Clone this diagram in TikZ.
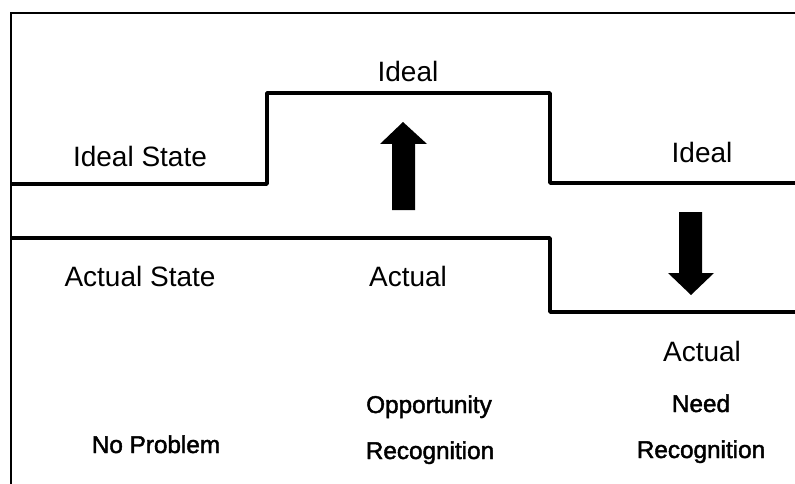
\documentclass[tikz,border=0pt]{standalone}
\usepackage{fontspec}
\setmainfont{Liberation Sans}
\newfontfamily\heavyfont[FakeBold=1.8]{Liberation Sans}
\begin{document}
\begin{tikzpicture}[x=1pt,y=-1pt,
  frameline/.style={line width=1.8pt,black},
  stepline/.style={line width=3.6pt,black,line join=round},
  bigarrow/.style={fill=black,draw=none},
  lbl/.style={font=\fontsize{28}{30}\selectfont,anchor=base,inner sep=0pt},
  heavylbl/.style={font=\heavyfont\fontsize{24.3}{26}\selectfont,anchor=base,inner sep=0pt}]
\useasboundingbox (0,0) rectangle (795,484);
% frame
\coordinate (fTR) at (795,13);
\coordinate (fTL) at (11,13);
\coordinate (fBL) at (11,484);
\draw[frameline] (fTR) -- (fTL) -- (fBL);
% ideal line
\coordinate (i0) at (11,184);
\coordinate (i1) at (267,184);
\coordinate (i2) at (267,93);
\coordinate (i3) at (550,93);
\coordinate (i4) at (550,183);
\coordinate (i5) at (795,183);
\draw[stepline] (i0) -- (i1) -- (i2) -- (i3) -- (i4) -- (i5);
% actual line
\coordinate (a0) at (11,238);
\coordinate (a1) at (550,238);
\coordinate (a2) at (550,312);
\coordinate (a3) at (795,312);
\draw[stepline] (a0) -- (a1) -- (a2) -- (a3);
% up arrow
\fill[bigarrow] (392,210) -- (415,210) -- (415,144) -- (427,144) -- (403,122) -- (380,144) -- (392,144) -- cycle;
% down arrow
\fill[bigarrow] (679,212) -- (702,212) -- (702,273) -- (714,273) -- (691,295) -- (668,273) -- (679,273) -- cycle;
% labels
\node[lbl] (idealstate) at (140,166) {Ideal State};
\node[lbl] (idealmid) at (408,82) {Ideal};
\node[lbl] (idealright) at (702,163) {Ideal};
\node[lbl] (actualstate) at (140,286) {Actual State};
\node[lbl] (actualmid) at (408,286) {Actual};
\node[lbl] (actualright) at (702,361) {Actual};
\node[heavylbl] (noproblem) at (156,453) {No Problem};
\node[heavylbl] (opport) at (429,413) {Opportunity};
\node[heavylbl] (recogmid) at (430,459) {Recognition};
\node[heavylbl] (need) at (701,412) {Need};
\node[heavylbl] (recogright) at (701,458) {Recognition};
\end{tikzpicture}
\end{document}
